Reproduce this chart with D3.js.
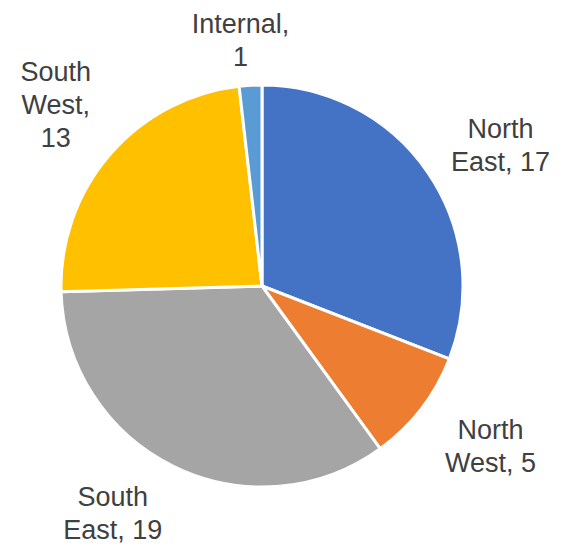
<!DOCTYPE html>
<html><head><meta charset="utf-8">
<script src="https://cdn.jsdelivr.net/npm/d3@7"></script>
<style>body{margin:0;background:#fff}</style>
</head><body>
<svg id="c" width="572" height="546"></svg>
<script>
const categories = ["North East", "North West", "South East", "South West", "Internal"];
const values = [17, 5, 19, 13, 1];
const colors = ["#4472C4", "#ED7D31", "#A5A5A5", "#FFC000", "#5B9BD5"];
const labelLines = [["North", "East, 17"], ["North", "West, 5"], ["South", "East, 19"], ["South", "West,", "13"], ["Internal,", "1"]];
// label placement (best-fit style): radius and angular shift from slice middle
const labelRadius = [277, 279, 272, 275, 247];
const labelShiftDeg = [3.8, -2.6, 7.1, 0.5, -1.7];

const svg = d3.select("#c");
const cx = 262, cy = 286, R = 201;
const g = svg.append("g").attr("transform", `translate(${cx},${cy})`);
const data = categories.map((c, i) => ({c, v: values[i], i}));
const pie = d3.pie().value(d => d.v).sort(null);
const arcs = pie(data);
const arc = d3.arc().innerRadius(0).outerRadius(R);
g.selectAll("path").data(arcs).enter().append("path")
  .attr("d", arc).attr("fill", d => colors[d.data.i])
  .attr("stroke", "#fff").attr("stroke-width", 3).attr("stroke-linejoin", "round");

const lineH = 33;
arcs.forEach(d => {
  const i = d.data.i;
  const a = (d.startAngle + d.endAngle) / 2 + labelShiftDeg[i] * Math.PI / 180;
  const lines = labelLines[i];
  const rr = labelRadius[i];
  const x = Math.sin(a) * rr, y = -Math.cos(a) * rr;
  const t = g.append("text").attr("text-anchor", "middle")
    .attr("font-family", "Liberation Sans, Arial, sans-serif").attr("font-size", 27).attr("fill", "#404040");
  lines.forEach((l, k) => {
    t.append("tspan").attr("x", x).attr("y", y + (k - (lines.length - 1) / 2) * lineH).attr("dy", "0.35em").text(l);
  });
});
</script>
</body></html>
